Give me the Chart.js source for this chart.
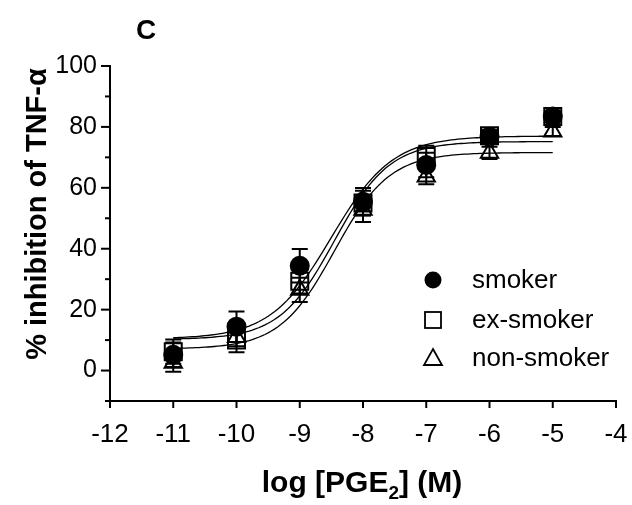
<!DOCTYPE html>
<html>
<head>
<meta charset="utf-8">
<script src="https://cdn.jsdelivr.net/npm/chart.js@4/dist/chart.umd.min.js"></script>
<style>
  html, body { margin: 0; padding: 0; background: #fff; }
  #wrap { width: 632px; height: 505px; }
</style>
</head>
<body>
<div id="wrap"><canvas id="chart"></canvas></div>
<script>
// values
const logDose      = [-11, -10, -9, -8, -7, -6, -5];
const smoker       = [5.2, 14.4, 34.4, 55.4, 67.5, 76.8, 83.4];
const smokerErr    = [4, 5, 5.5, 4.5, 4, 2, 1.5];
const exSmoker     = [6.2, 10.0, 29.3, 55.0, 70.3, 77.1, 83.4];
const exSmokerErr  = [4, 4, 4, 4, 3.5, 2, 1.5];
const nonSmoker    = [2.6, 11.0, 26.5, 52.8, 63.7, 71.5, 78.5];
const nonSmokerErr = [3, 3, 4, 4, 2.5, 2, 1.5];

// sigmoid fits: bottom, top, logEC50, hill slope
const fitSmoker    = [10.4, 77.0, -8.50, 0.9];
const fitExSmoker  = [10.2, 75.2, -8.45, 1.0];
const fitNonSmoker = [7.1, 71.6, -8.45, 1.0];

const xTicks = [-12, -11, -10, -9, -8, -7, -6, -5, -4];
const yTicks = [0, 20, 40, 60, 80, 100];
const legendNames = ['smoker', 'ex-smoker', 'non-smoker'];

const FONT = '"Liberation Sans", Arial, Helvetica, sans-serif';

function curve(p) {
  const pts = [];
  for (let i = 0; i <= 120; i++) {
    const x = logDose[0] + i * (logDose[logDose.length - 1] - logDose[0]) / 120;
    pts.push({ x: x, y: p[0] + (p[1] - p[0]) / (1 + Math.pow(10, p[3] * (p[2] - x))) });
  }
  return pts;
}

function pts(ys, errs) {
  return logDose.map((x, i) => ({ x: x, y: ys[i], err: errs[i] }));
}

const markerSets = [
  { data: pts(smoker, smokerErr),       pointStyle: 'circle',   pointRadius: 9,  pointBackgroundColor: '#000', order: 1 },
  { data: pts(exSmoker, exSmokerErr),   pointStyle: 'rect',     pointRadius: 12, pointBackgroundColor: 'rgba(0,0,0,0)', order: 2 },
  { data: pts(nonSmoker, nonSmokerErr), pointStyle: 'triangle', pointRadius: 10, pointBackgroundColor: 'rgba(0,0,0,0)', order: 3 }
];

const datasets = [];
markerSets.forEach((m, i) => {
  datasets.push(Object.assign({
    label: legendNames[i],
    type: 'scatter',
    showLine: false,
    pointBorderColor: '#000',
    pointBorderWidth: 2,
    pointHoverRadius: m.pointRadius
  }, m));
});
[fitSmoker, fitExSmoker, fitNonSmoker].forEach(p => {
  datasets.push({
    type: 'line',
    data: curve(p),
    borderColor: '#000',
    borderWidth: 1.3,
    pointRadius: 0,
    fill: false,
    tension: 0,
    order: 5
  });
});

const decorPlugin = {
  id: 'decor',
  beforeDatasetsDraw(chart) {
    // error bars
    const ctx = chart.ctx, xs = chart.scales.x, ys = chart.scales.y;
    ctx.save();
    ctx.strokeStyle = '#000';
    ctx.lineWidth = 2;
    markerSets.forEach(m => {
      m.data.forEach(d => {
        const px = xs.getPixelForValue(d.x);
        const hi = ys.getPixelForValue(d.y + d.err);
        const lo = ys.getPixelForValue(d.y - d.err);
        ctx.beginPath();
        ctx.moveTo(px, hi); ctx.lineTo(px, lo);
        ctx.moveTo(px - 8, hi); ctx.lineTo(px + 8, hi);
        ctx.moveTo(px - 8, lo); ctx.lineTo(px + 8, lo);
        ctx.stroke();
      });
    });
    ctx.restore();
  },
  afterDraw(chart) {
    const ctx = chart.ctx, xs = chart.scales.x, ys = chart.scales.y;
    const a = chart.chartArea;
    ctx.save();
    ctx.strokeStyle = '#000';
    ctx.fillStyle = '#000';
    ctx.lineWidth = 2;
    // axes
    ctx.beginPath();
    ctx.moveTo(a.left, ys.getPixelForValue(100) - 1);
    ctx.lineTo(a.left, a.bottom);
    ctx.lineTo(a.right + 1, a.bottom);
    ctx.stroke();
    // y ticks, major and minor
    for (let v = -10; v <= 100; v += 10) {
      const py = ys.getPixelForValue(v);
      const len = (v >= 0 && v % 20 === 0) ? 9 : 5;
      ctx.beginPath(); ctx.moveTo(a.left - len, py); ctx.lineTo(a.left, py); ctx.stroke();
    }
    // x ticks
    xTicks.forEach(v => {
      const px = xs.getPixelForValue(v);
      ctx.beginPath(); ctx.moveTo(px, a.bottom); ctx.lineTo(px, a.bottom + 7); ctx.stroke();
    });

    // panel letter
    ctx.font = 'bold 28px ' + FONT;
    ctx.textAlign = 'center';
    ctx.textBaseline = 'middle';
    ctx.fillText('C', 146, 31);

    // y title
    ctx.save();
    ctx.translate(38, 214);
    ctx.rotate(-Math.PI / 2);
    ctx.font = 'bold 29px ' + FONT;
    ctx.fillText('% inhibition of TNF-\u03b1', 0, 0);
    ctx.restore();

    // x title with subscript
    const big = 'bold 30px ' + FONT, small = 'bold 19px ' + FONT;
    const p1 = 'log [PGE', p2 = '2', p3 = '] (M)';
    ctx.font = big; const w1 = ctx.measureText(p1).width, w3 = ctx.measureText(p3).width;
    ctx.font = small; const w2 = ctx.measureText(p2).width;
    let x0 = 362 - (w1 + w2 + w3) / 2;
    const base = 492;
    ctx.textAlign = 'left';
    ctx.textBaseline = 'alphabetic';
    ctx.font = big; ctx.fillText(p1, x0, base); x0 += w1;
    ctx.font = small; ctx.fillText(p2, x0, base + 7); x0 += w2;
    ctx.font = big; ctx.fillText(p3, x0, base);

    // legend
    const rows = [280, 320, 358];
    const mx = 433;
    ctx.font = '26px ' + FONT;
    ctx.textBaseline = 'middle';
    rows.forEach((ry, i) => {
      ctx.beginPath();
      if (i === 0) {
        ctx.arc(mx, ry, 8.5, 0, Math.PI * 2); ctx.fill();
      } else if (i === 1) {
        ctx.lineWidth = 1.8;
        ctx.strokeRect(mx - 8, ry - 8, 16, 16);
      } else {
        ctx.lineWidth = 1.8;
        ctx.moveTo(mx, ry - 9); ctx.lineTo(mx + 9, ry + 7); ctx.lineTo(mx - 9, ry + 7); ctx.closePath();
        ctx.stroke();
      }
      ctx.fillText(legendNames[i], 472, ry + 1);
    });
    ctx.restore();
  }
};

new Chart(document.getElementById('chart'), {
  type: 'scatter',
  data: { datasets: datasets },
  options: {
    responsive: true,
    maintainAspectRatio: false,
    animation: false,
    devicePixelRatio: 1,
    layout: { padding: { top: 66, right: 0, left: 0, bottom: 0 } },
    plugins: { legend: { display: false }, tooltip: { enabled: false } },
    scales: {
      x: {
        type: 'linear', min: -12, max: -4,
        afterFit(s) { s.height = 104; s.paddingLeft = 0; s.paddingRight = 16; },
        afterBuildTicks(s) { s.ticks = xTicks.map(v => ({ value: v })); },
        grid: { display: false, drawTicks: false },
        border: { display: false },
        ticks: { color: '#000', padding: 18, font: { family: FONT, size: 26 } }
      },
      y: {
        type: 'linear', min: -10, max: 100,
        afterFit(s) { s.width = 110; s.paddingTop = 0; s.paddingBottom = 0; },
        afterBuildTicks(s) { s.ticks = yTicks.map(v => ({ value: v })); },
        grid: { display: false, drawTicks: false },
        border: { display: false },
        ticks: { color: '#000', padding: 13, font: { family: FONT, size: 25 } }
      }
    }
  },
  plugins: [decorPlugin]
});
</script>
</body>
</html>
